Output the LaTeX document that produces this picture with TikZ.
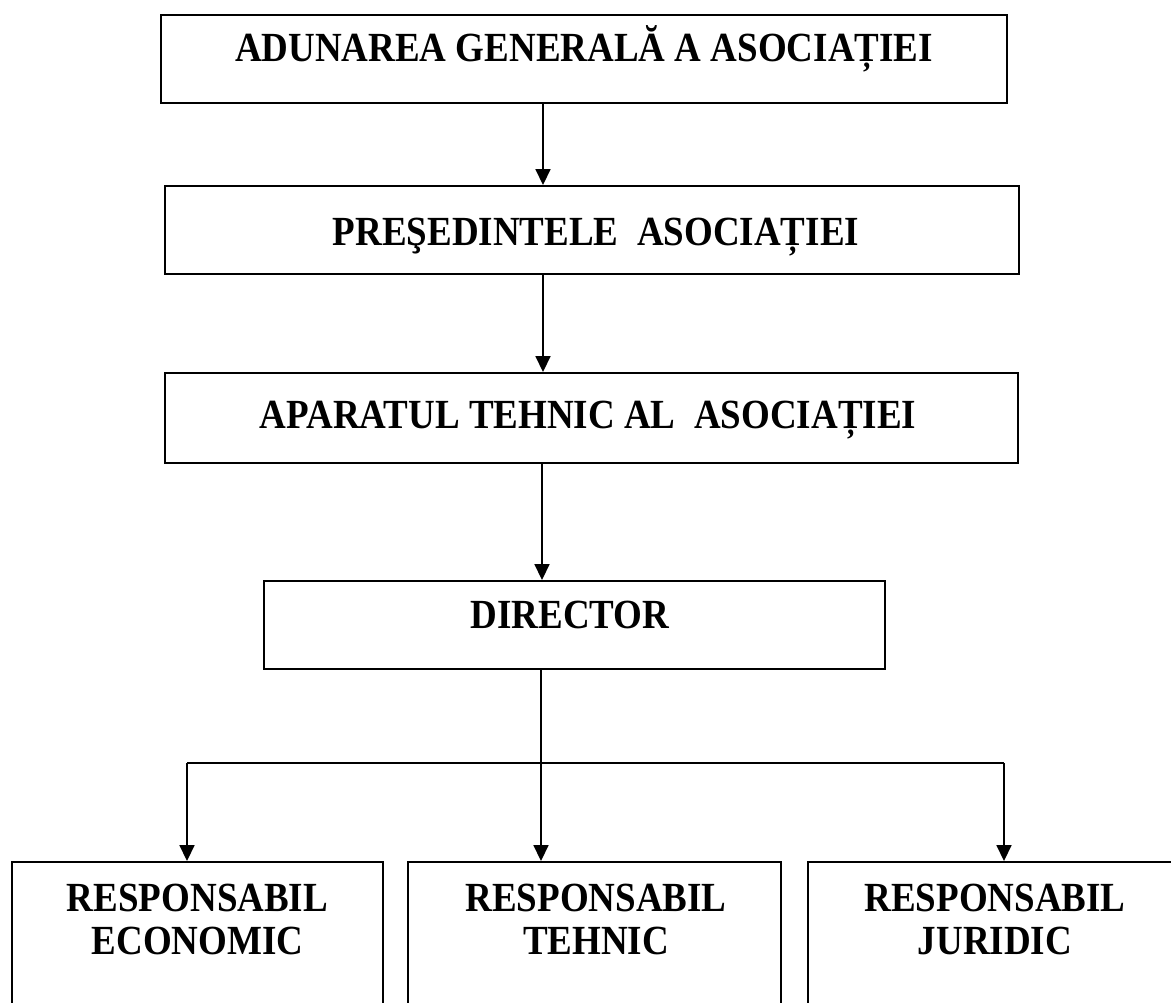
\documentclass[tikz,border=0pt]{standalone}
\usepackage{fontspec}
\setmainfont{Liberation Serif}
\usetikzlibrary{arrows.meta}
\newcommand{\tallt}[1]{\scalebox{1}[1.12]{#1}}
\begin{document}
\begin{tikzpicture}[x=1pt,y=-1pt,
  box/.style={draw=black, line width=1.9pt, rectangle, inner sep=0pt},
  lbl/.style={font=\fontsize{37}{43}\selectfont\bfseries, inner sep=0pt, anchor=base},
  lbl2/.style={font=\fontsize{37}{43}\selectfont\bfseries, inner sep=0pt, anchor=north, align=center},
  conn/.style={draw=black, line width=1.7pt},
  arr/.style={conn, -{Triangle[width=15pt,length=16pt]}}
]
\useasboundingbox (0,0) rectangle (1171,1003);
\clip (0,0) rectangle (1171,1003);
\fill[white] (0,0) rectangle (1171,1003);

% boxes
\node[box, minimum width=846pt, minimum height=88pt] (b1) at (584,59) {};
\node[box, minimum width=854pt, minimum height=88pt] (b2) at (592,230) {};
\node[box, minimum width=853pt, minimum height=90pt] (b3) at (591.5,418) {};
\node[box, minimum width=621pt, minimum height=88pt] (b4) at (574.5,625) {};
\node[box, minimum width=371pt, minimum height=170pt] (r1) at (197.5,947) {};
\node[box, minimum width=373pt, minimum height=170pt] (r2) at (594.5,947) {};
\node[box, minimum width=374pt, minimum height=170pt] (r3) at (995,947) {};

% labels
\node[lbl] (t1) at (584,62) {\tallt{ADUNAREA GENERALĂ A ASOCIAȚIEI}};
\node[lbl] (t2) at (596,245.5) {\tallt{PREŞEDINTELE\ \ ASOCIAȚIEI}};
\node[lbl] (t3) at (588,428.5) {\tallt{APARATUL TEHNIC AL\ \ ASOCIAȚIEI}};
\node[lbl] (t4) at (570,628.5) {\tallt{DIRECTOR}};
\node[lbl2] (u1) at (197.5,883.5) {\tallt{RESPONSABIL}\\\tallt{ECONOMIC}};
\node[lbl2] (u2) at (596,883.5) {\tallt{RESPONSABIL}\\\tallt{TEHNIC}};
\node[lbl2] (u3) at (995,883.5) {\tallt{RESPONSABIL}\\\tallt{JURIDIC}};

% connector x positions
\coordinate (a1) at (543,0);
\coordinate (a3) at (542,0);
\coordinate (a4) at (541,0);
\coordinate (hl) at (187,763);
\coordinate (hr) at (1004,763);

\draw[arr] (b1.south -| a1) -- (b2.north -| a1);
\draw[arr] (b2.south -| a1) -- (b3.north -| a1);
\draw[arr] (b3.south -| a3) -- (b4.north -| a3);
\draw[arr] (b4.south -| a4) -- (r2.north -| a4);
\draw[conn] (hl) -- (hr);
\draw[arr] (hl) -- (hl |- r1.north);
\draw[arr] (hr) -- (hr |- r3.north);
\end{tikzpicture}
\end{document}
